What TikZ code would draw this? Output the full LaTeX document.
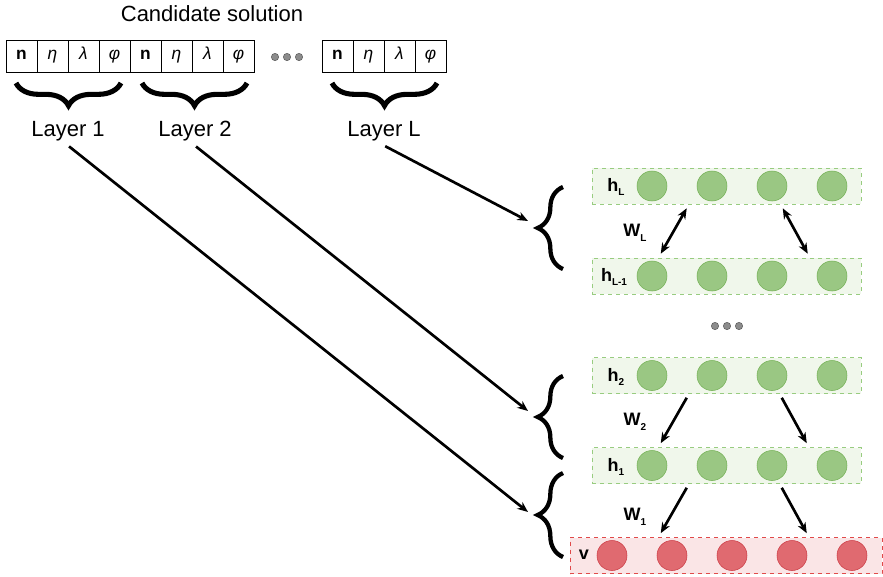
\documentclass[tikz,border=0pt]{standalone}
\usepackage{fontspec}
\setmainfont{Liberation Sans}
\usetikzlibrary{arrows.meta,decorations.pathreplacing,calc,positioning}
\definecolor{gcirc}{HTML}{9AC783}
\definecolor{gline}{HTML}{74B155}
\definecolor{gfill}{HTML}{F0F7EB}
\definecolor{gdash}{HTML}{98CC80}
\definecolor{rcirc}{HTML}{E06A70}
\definecolor{rline}{HTML}{CC3B44}
\definecolor{rfill}{HTML}{FAE5E6}
\definecolor{rdash}{HTML}{E04A4A}
\newcommand{\sublab}[2]{\textbf{#1\raisebox{-0.5ex}{\fontsize{7.5}{8}\selectfont #2}}}

\begin{document}
\begin{tikzpicture}[x=0.75pt, y=-0.75pt,
   big/.style={font=\fontsize{16.5}{18}\selectfont},
   cell/.style={draw, inner sep=0pt, minimum width=23.25pt, minimum height=24pt, text height=1.5ex, text depth=0.4ex, font=\fontsize{13}{14}\selectfont},
   dot/.style={circle, draw=black!65, fill=black!45, inner sep=0pt, minimum size=5.5pt},
   gbox/.style={draw=gdash, dashed, fill=gfill, minimum width=201.75pt, minimum height=27pt},
   rbox/.style={draw=rdash, dashed, fill=rfill, minimum width=234pt, minimum height=27pt},
   gnode/.style={circle, draw=gline, fill=gcirc, inner sep=0pt, minimum size=22.5pt},
   rnode/.style={circle, draw=rline, fill=rcirc, inner sep=0pt, minimum size=22.5pt},
   lab/.style={font=\fontsize{13.5}{15}\selectfont, inner sep=1pt},
   arr/.style={-{Stealth[length=8pt,width=6.5pt]}, line width=2pt},
   dbl/.style={{Stealth[length=8pt,width=6.5pt]}-{Stealth[length=8pt,width=6.5pt]}, line width=2pt},
   topbrace/.style={decorate, decoration={brace, amplitude=17pt}, line width=3.8pt},
   sidebrace/.style={decorate, decoration={brace, amplitude=19pt}, line width=3.2pt}]
\useasboundingbox (0,0) rectangle (883,576);

% candidate solution
\node[big] (title) at (212,14) {Candidate solution};
\foreach \g/\x in {a/6,b/130,c/322}
   \foreach \s [count=\i] in {\textbf{n},\textit{η},\textit{λ},\textit{φ}}
      \node[cell] (\g\i) at (\x+31*\i-15.5,56) {\s};
\foreach \x [count=\i] in {275,287,299}
   \node[dot] (dta\i) at (\x,57) {};

\draw[topbrace] (121,83) -- (16,83);
\draw[topbrace] (247,83) -- (142,83);
\draw[topbrace] (437,83) -- (332,83);
\node[big] (lay1) at (68,131) {Layer 1};
\node[big] (lay2) at (195,131) {Layer 2};
\node[big] (layL) at (384,131) {Layer L};

% network layers
\node[gbox] (hL) at (726.5,186) {};
\node[gbox] (hLm) at (726.5,276) {};
\node[gbox] (h2) at (726.5,375.5) {};
\node[gbox] (h1) at (726.5,465.5) {};
\node[rbox] (v) at (726,555.5) {};
\foreach \l in {hL,hLm,h2,h1}
   \foreach \i in {1,...,4}
      \node[gnode] (\l n\i) at (652+60*\i-60,0 |- \l) {};
\foreach \i in {1,...,5}
   \node[rnode] (vn\i) at (612+60*\i-60,0 |- v) {};
\foreach \x [count=\i] in {715,727,739}
   \node[dot] (dtb\i) at (\x,326) {};

\node[lab] (lhL) at (616,187) {\sublab{h}{L}};
\node[lab] (lhLm) at (614,277) {\sublab{h}{L-1}};
\node[lab] (lh2) at (616,377) {\sublab{h}{2}};
\node[lab] (lh1) at (616,467) {\sublab{h}{1}};
\node[lab] (lv) at (584,555) {\textbf{v}};
\node[lab] (lwL) at (635,233) {\sublab{W}{L}};
\node[lab] (lw2) at (635,422) {\sublab{W}{2}};
\node[lab] (lw1) at (635,517) {\sublab{W}{1}};

% weights
\draw[dbl] ($(hL.south west)+(95,4)$) -- ($(hLm.north west)+(69,-4)$);
\draw[dbl] ($(hL.south west)+(191,4)$) -- ($(hLm.north west)+(216,-4)$);
\draw[arr] ($(h2.south west)+(95,4)$) -- ($(h1.north west)+(69,-4)$);
\draw[arr] ($(h2.south west)+(190,4)$) -- ($(h1.north west)+(215,-4)$);
\draw[arr] ($(h1.south west)+(95,4)$) -- ($(v.north west)+(91,-4)$);
\draw[arr] ($(h1.south west)+(190,4)$) -- ($(v.north west)+(237,-4)$);

% braces and mapping
\draw[sidebrace] (563,269) -- (563,187);
\draw[sidebrace] (563,458) -- (563,376);
\draw[sidebrace] (563,557) -- (563,473);
\coordinate (tL) at (528,221);
\coordinate (t2) at (528,411);
\coordinate (t1) at (528,512);
\draw[arr, shorten <=1pt] (lay1.south) -- (t1);
\draw[arr, shorten <=1pt] (lay2.south) -- (t2);
\draw[arr, shorten <=1pt] (layL.south) -- (tL);
\end{tikzpicture}
\end{document}
